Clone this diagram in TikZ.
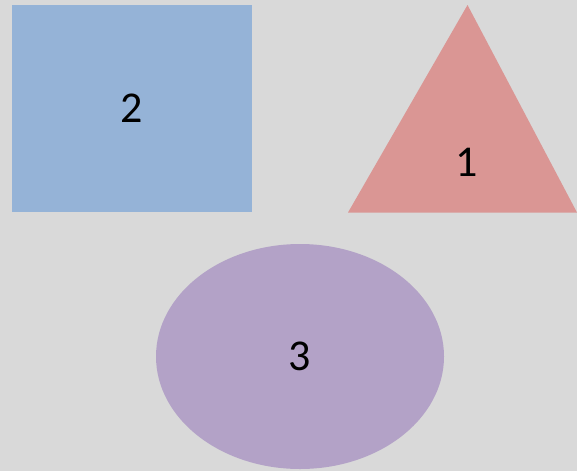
\documentclass[tikz,border=0pt]{standalone}
\usepackage{fontspec}
\setmainfont{Carlito}
\usetikzlibrary{positioning,calc,shapes.geometric}

\definecolor{bgGray}{HTML}{D9D9D9}
\definecolor{boxBlue}{HTML}{95B3D7}
\definecolor{triRed}{HTML}{DA9694}
\definecolor{ellPurple}{HTML}{B3A2C7}

\begin{document}
\begin{tikzpicture}[
      x=1pt,y=-1pt,
      every node/.style={inner sep=0pt,outer sep=0pt,font=\fontsize{44}{52}\selectfont},
      shapebox/.style={draw=none,text=black},
      ]
      \fill[bgGray] (0,0) rectangle (577,471);
      \useasboundingbox (0,0) rectangle (577,471);
      \node[shapebox,fill=boxBlue,rectangle,minimum width=240pt,minimum height=207pt]
        (shapeRect) at (132,108.5) {2};
      \coordinate (shapeTriTop) at (467.5,5);
      \coordinate (shapeTriLeft) at (348,212.5);
      \coordinate (shapeTriRight) at (577,212.5);
      \fill[triRed] (shapeTriTop) -- (shapeTriRight) -- (shapeTriLeft) -- cycle;
      \node[shapebox] (shapeTri) at (467,162) {1};
      \node[shapebox,fill=ellPurple,ellipse,minimum width=288pt,minimum height=225pt]
        (shapeEll) at (300,356.5) {3};
    \end{tikzpicture}
\end{document}
